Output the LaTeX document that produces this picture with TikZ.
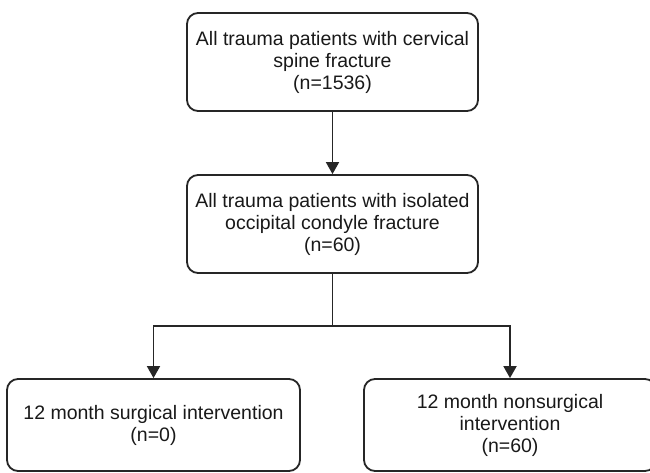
\documentclass[tikz,border=0pt]{standalone}
\usepackage{fontspec}
\setmainfont{Liberation Sans}
\usetikzlibrary{arrows.meta}
\newcommand{\boxtext}[2]{\raisebox{#1}{\parbox{285pt}{\centering #2}}}
\begin{document}
\begin{tikzpicture}[x=1pt,y=-1pt,
  box/.style={draw=black!85, line width=1.8pt, rounded corners=11pt, align=center,
    inner sep=0pt, text=black!90, font=\fontsize{19.5}{22}\selectfont},
  conn/.style={draw=black!85, line width=1.8pt},
  arr/.style={conn, -{Triangle[width=13pt,length=12pt]}}]
\clip (0,0) rectangle (650,473);
\fill[white] (0,0) rectangle (650,473);
\node[box, minimum width=291pt, minimum height=98pt] (top) at (332.5,62)
  {\boxtext{-3pt}{All trauma patients with cervical\\spine fracture\\(n=1536)}};
\node[box, minimum width=291pt, minimum height=98pt] (mid) at (332.5,224)
  {\boxtext{-3pt}{All trauma patients with isolated\\occipital condyle fracture\\(n=60)}};
\node[box, minimum width=293pt, minimum height=92pt] (bl) at (153.5,425)
  {\boxtext{-6pt}{12 month surgical intervention\\(n=0)}};
\node[box, minimum width=292pt, minimum height=92pt] (br) at (510,425)
  {\boxtext{-3pt}{12 month nonsurgical\\intervention\\(n=60)}};
\coordinate (j) at (332.5,326);
\draw[arr] (top) -- (mid);
\draw[conn] (mid) -- (j);
\draw[arr] (j) -| (bl);
\draw[arr] (j) -| (br);
\end{tikzpicture}
\end{document}
